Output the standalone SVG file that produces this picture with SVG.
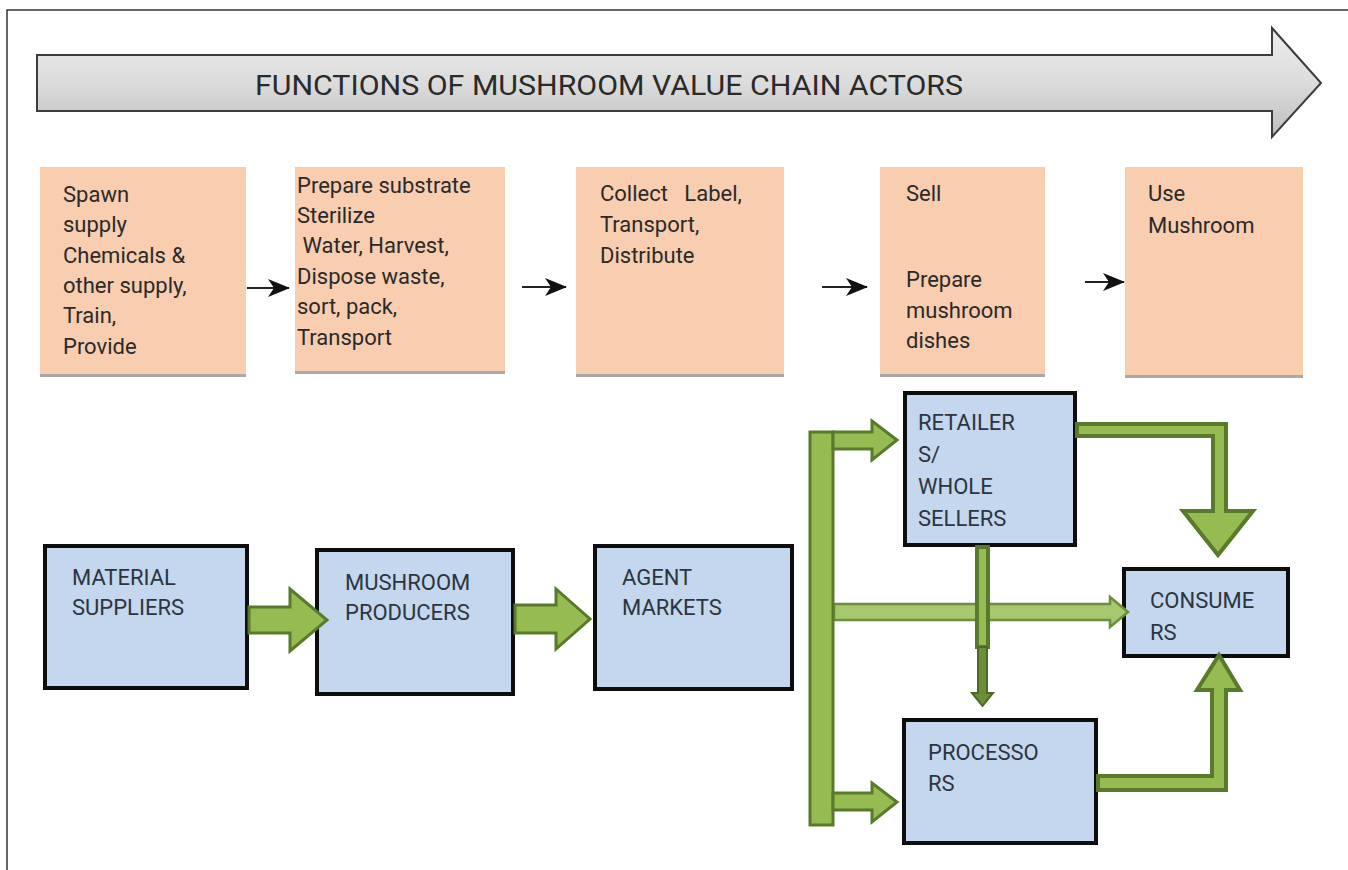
<svg xmlns="http://www.w3.org/2000/svg" width="1348" height="870" viewBox="0 0 1348 870">
<defs>
<linearGradient id="gb" x1="0" y1="0" x2="0" y2="1">
<stop offset="0" stop-color="#ececec"/>
<stop offset="0.5" stop-color="#dcdcdc"/>
<stop offset="1" stop-color="#bdbdbd"/>
</linearGradient>
<marker id="ah" viewBox="0 0 22 18" refX="21" refY="9" markerWidth="22" markerHeight="18" markerUnits="userSpaceOnUse" orient="auto">
<path d="M0,0 L22,9 L0,18 L6,9 Z" fill="#111"/>
</marker>
</defs>
<style>
text{font-family:Roboto,"Liberation Sans",Arial,sans-serif;fill:#2a2a2a}
.pt{font-size:22px}
.bt{font-size:22px;fill:#2d3440}
.peach{fill:#f8cdb0}
.shadow{fill:#a9a9a9}
.blue{fill:#c4d7ee;stroke:#0d0d0d;stroke-width:4}
.thin{stroke:#222;stroke-width:2.2;fill:none;marker-end:url(#ah)}
.g{fill:#95bb52;stroke:#587a2a;stroke-width:3;stroke-linejoin:miter}
.gk{fill:#95bb52;stroke:#587a2a;stroke-width:4;stroke-linejoin:miter}
.gl{fill:#a8c870;stroke:#6d8f3c;stroke-width:2.5}
.gd{fill:#6b8f38;stroke:#4c6a24;stroke-width:2}
</style>
<rect width="1348" height="870" fill="#fff"/>
<path d="M7,870 L7,10 L1348,10" fill="none" stroke="#333" stroke-width="1.5"/>

<g id="banner">
<path d="M37,55 L1272,55 L1272,28 L1321,83 L1272,137 L1272,111 L37,111 Z" fill="url(#gb)" stroke="#3c3c3c" stroke-width="2"/>
<text x="255" y="95" font-size="27" textLength="708" lengthAdjust="spacingAndGlyphs">FUNCTIONS OF MUSHROOM VALUE CHAIN ACTORS</text>
</g>

<g id="f1">
<rect class="shadow" x="40" y="170" width="206" height="207"/>
<rect class="peach" x="40" y="167" width="206" height="207"/>
<text class="pt" x="63" y="202">Spawn</text>
<text class="pt" x="63" y="232">supply</text>
<text class="pt" x="63" y="263">Chemicals &amp;</text>
<text class="pt" x="63" y="293">other supply,</text>
<text class="pt" x="63" y="323">Train,</text>
<text class="pt" x="63" y="354">Provide</text>
</g>
<g id="f2">
<rect class="shadow" x="295" y="170" width="210" height="204"/>
<rect class="peach" x="295" y="167" width="210" height="204"/>
<text class="pt" x="297" y="193">Prepare substrate</text>
<text class="pt" x="297" y="223">Sterilize</text>
<text class="pt" x="297" y="253" xml:space="preserve"> Water, Harvest,</text>
<text class="pt" x="297" y="284">Dispose waste,</text>
<text class="pt" x="297" y="314">sort, pack,</text>
<text class="pt" x="297" y="345">Transport</text>
</g>
<g id="f3">
<rect class="shadow" x="576" y="170" width="208" height="207"/>
<rect class="peach" x="576" y="167" width="208" height="207"/>
<text class="pt" x="600" y="201" xml:space="preserve">Collect   Label,</text>
<text class="pt" x="600" y="232">Transport,</text>
<text class="pt" x="600" y="263">Distribute</text>
</g>
<g id="f4">
<rect class="shadow" x="880" y="170" width="165" height="207"/>
<rect class="peach" x="880" y="167" width="165" height="207"/>
<text class="pt" x="906" y="201">Sell</text>
<text class="pt" x="906" y="287">Prepare</text>
<text class="pt" x="906" y="318">mushroom</text>
<text class="pt" x="906" y="348">dishes</text>
</g>
<g id="f5">
<rect class="shadow" x="1125" y="170" width="178" height="208"/>
<rect class="peach" x="1125" y="167" width="178" height="208"/>
<text class="pt" x="1148" y="201">Use</text>
<text class="pt" x="1148" y="233">Mushroom</text>
</g>

<g id="n-material">
<rect class="blue" x="45" y="546" width="202" height="142"/>
<text class="bt" x="72" y="585">MATERIAL</text>
<text class="bt" x="72" y="615">SUPPLIERS</text>
</g>
<g id="n-producers">
<rect class="blue" x="317" y="550" width="196" height="144"/>
<text class="bt" x="345" y="590">MUSHROOM</text>
<text class="bt" x="345" y="620">PRODUCERS</text>
</g>
<g id="n-agent">
<rect class="blue" x="595" y="546" width="197" height="143"/>
<text class="bt" x="622" y="585">AGENT</text>
<text class="bt" x="622" y="615">MARKETS</text>
</g>
<g id="n-retailers">
<rect class="blue" x="905" y="393" width="170" height="152"/>
<text class="bt" x="918" y="430">RETAILER</text>
<text class="bt" x="918" y="462">S/</text>
<text class="bt" x="918" y="494">WHOLE</text>
<text class="bt" x="918" y="526">SELLERS</text>
</g>
<g id="n-consumers">
<rect class="blue" x="1124" y="569" width="164" height="87"/>
<text class="bt" x="1150" y="608">CONSUME</text>
<text class="bt" x="1150" y="640">RS</text>
</g>
<g id="n-processors">
<rect class="blue" x="904" y="720" width="192" height="123"/>
<text class="bt" x="928" y="760">PROCESSO</text>
<text class="bt" x="928" y="791">RS</text>
</g>

<g id="connectors">
<line class="thin" x1="247" y1="288" x2="289" y2="288"/>
<line class="thin" x1="522" y1="287" x2="566" y2="287"/>
<line class="thin" x1="822" y1="287" x2="867" y2="287"/>
<line class="thin" x1="1085" y1="282" x2="1124" y2="282"/>

<path class="g" d="M249,607 L290,607 L290,589 L327,620 L290,651 L290,633 L249,633 Z"/>
<path class="g" d="M515,605 L556,605 L556,589 L590,619 L556,649 L556,633 L515,633 Z"/>

<path class="gl" d="M834,604 L1110,604 L1110,597 L1128,612 L1110,627 L1110,620 L834,620 Z"/>
<path class="gk" d="M977,547 L988,547 L988,647 L977,647 Z"/>
<path class="gd" d="M978,647 L987,647 L987,693 L993,693 L982.5,706 L972,693 L978,693 Z"/>

<rect class="g" x="810" y="432" width="23" height="393"/>
<path class="g" d="M833,432 L872,432 L872,421 L897,440 L872,460 L872,449 L833,449 Z"/>
<path class="g" d="M833,793 L872,793 L872,783 L897,802 L872,822 L872,810 L833,810 Z"/>

<path class="gk" d="M1077,424 L1226,424 L1226,511 L1253,511 L1218,555 L1183,511 L1213,511 L1213,436 L1077,436 Z"/>
<path class="gk" d="M1098,776 L1212,776 L1212,690 L1197,690 L1219,655 L1240,690 L1226,690 L1226,790 L1098,790 Z"/>
</g>
</svg>
